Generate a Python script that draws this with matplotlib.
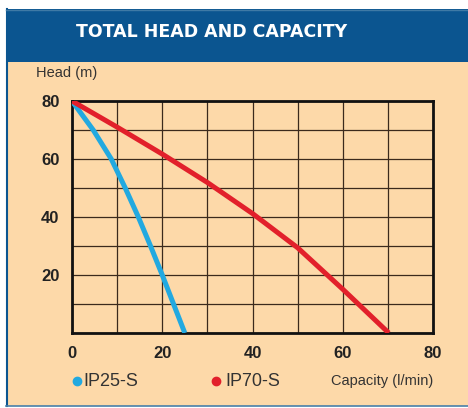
import matplotlib
matplotlib.use("Agg")
import matplotlib.pyplot as plt
from matplotlib.patches import Rectangle
from matplotlib.lines import Line2D

# Data
ip25_capacity = [0, 4.7, 8.7, 11.8, 14.7, 17.4, 20.0, 22.5, 25.0]
ip25_head = [80, 70, 60, 50, 40, 30, 20, 10, 0]
ip70_capacity = [0, 10, 20, 30, 40, 50, 60, 70.2]
ip70_head = [80, 71, 61.7, 51.9, 41.2, 29.4, 15.1, 0]
x_ticks = [0, 20, 40, 60, 80]
y_ticks = [20, 40, 60, 80]
series_names = ["IP25-S", "IP70-S"]

W, H = 468, 408
BLUE = "#0b5590"
PEACH = "#fdd9a9"
C_BLUE = "#22a9e0"
C_RED = "#e2202b"
FONT = "Liberation Sans"

fig = plt.figure(figsize=(W / 100, H / 100), dpi=100)
fig.patch.set_facecolor("white")

def fx(x):
    return x / W

def fy(y):
    return 1 - y / H

# Frame: header + peach panel
fig.add_artist(Rectangle((fx(6), fy(62)), fx(W - 6), 53 / H, transform=fig.transFigure,
                         facecolor=BLUE, edgecolor="none", zorder=0))
fig.add_artist(Rectangle((fx(6), fy(406)), fx(W - 6), 344 / H, transform=fig.transFigure,
                         facecolor=PEACH, edgecolor="none", zorder=0))
fig.add_artist(Line2D([fx(6.5), fx(6.5)], [fy(9), fy(406)], transform=fig.transFigure,
                      color=BLUE, lw=1.5, zorder=1))
fig.add_artist(Line2D([fx(6), fx(W)], [fy(405.5), fy(405.5)], transform=fig.transFigure,
                      color="#4a7fa8", lw=1.2, zorder=1))
fig.add_artist(Line2D([fx(6), fx(W)], [fy(9.5), fy(9.5)], transform=fig.transFigure,
                      color="#3f7aa6", lw=1.0, zorder=1))

fig.text(fx(212), fy(32), "TOTAL HEAD AND CAPACITY", color="white", fontsize=12.5,
         fontweight="heavy", family="DejaVu Sans", ha="center", va="center")

ax = fig.add_axes([fx(72), fy(333), fx(433 - 72), (333 - 101) / H])
ax.set_facecolor(PEACH)
ax.plot(ip25_capacity, ip25_head, color=C_BLUE, lw=3.6, solid_capstyle="butt",
        solid_joinstyle="round", zorder=3)
ax.plot(ip70_capacity, ip70_head, color=C_RED, lw=3.6, solid_capstyle="butt",
        solid_joinstyle="round", zorder=3)

ax.set_xlim(0, 80)
ax.set_ylim(0, 80)
ax.set_xticks(x_ticks)
ax.set_yticks(y_ticks)
ax.set_xticks(range(0, 81, 10), minor=True)
ax.set_yticks(range(0, 81, 10), minor=True)
ax.grid(True, which="both", color="#3b2a1c", lw=0.9)
ax.set_axisbelow(True)
ax.tick_params(length=0, which="both", pad=9)
for lab in ax.get_xticklabels() + ax.get_yticklabels():
    lab.set_fontfamily(FONT)
    lab.set_fontweight("bold")
    lab.set_fontsize(12)
    lab.set_color("#222222")
for s in ax.spines.values():
    s.set_linewidth(2)
    s.set_color("#111111")

fig.text(fx(36), fy(73), "Head (m)", fontsize=10.5, family=FONT, color="#333333",
         ha="left", va="center")

# Legend
fig.add_artist(Line2D([fx(77)], [fy(381)], transform=fig.transFigure, marker="o",
                      markersize=6, color=C_BLUE, lw=0))
fig.text(fx(83), fy(381), series_names[0], fontsize=13, family=FONT, color="#333333",
         ha="left", va="center")
fig.add_artist(Line2D([fx(216)], [fy(381)], transform=fig.transFigure, marker="o",
                      markersize=6, color=C_RED, lw=0))
fig.text(fx(225), fy(381), series_names[1], fontsize=13, family=FONT, color="#333333",
         ha="left", va="center")
fig.text(fx(433), fy(381), "Capacity (l/min)", fontsize=10.5, family=FONT, color="#333333",
         ha="right", va="center")

fig.savefig("out.png", dpi=100, facecolor=fig.get_facecolor())
